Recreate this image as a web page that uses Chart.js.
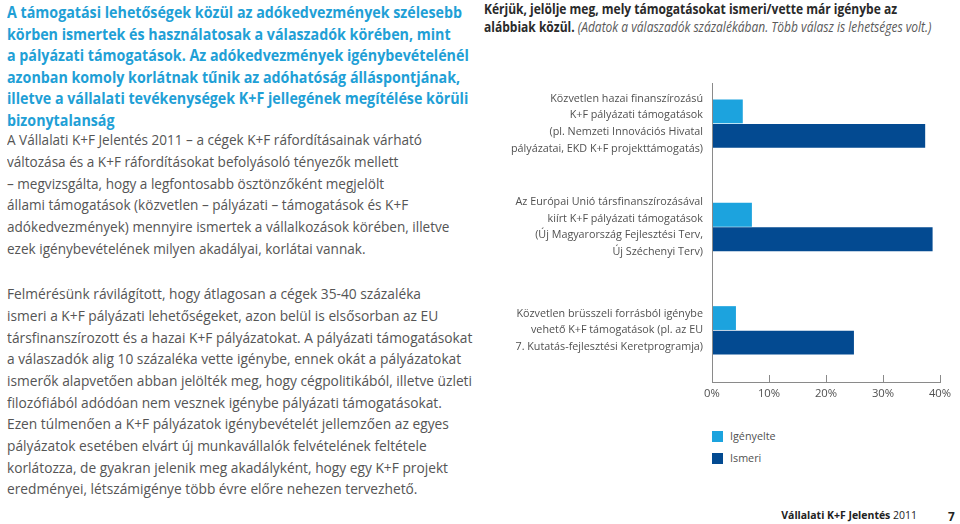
<!DOCTYPE html>
<html>
<head>
<meta charset="utf-8">
<script src="https://cdn.jsdelivr.net/npm/chart.js@4.4.0/dist/chart.umd.min.js"></script>
<style>
html, body { margin: 0; padding: 0; background: #fff; }
body { width: 960px; height: 524px; position: relative; overflow: hidden; font-family: "Open Sans", sans-serif; }
.blk { position: absolute; white-space: nowrap; transform-origin: left top; }
#chartBox { position: absolute; left: 480px; top: 60px; width: 480px; height: 350px; }
#legend { position: absolute; left: 712px; top: 430px; }
.lg { position: relative; height: 22px; }
.lg span.sw { position: absolute; left: 0; top: 1px; width: 11px; height: 11px; }
.lg span.tx { position: absolute; left: 18px; top: -2px; color: #505050; white-space: nowrap; }
#footer { position: absolute; right: 43px; top: 508px; color: #222; white-space: nowrap; }
#page { position: absolute; left: 948px; top: 508px; color: #222; font-weight: bold; }
</style>
</head>
<body>
<div id="heading" class="blk"></div>
<div id="body1" class="blk"></div>
<div id="body2" class="blk"></div>
<div id="title" class="blk"></div>
<div id="chartBox"><canvas id="wbChart"></canvas></div>
<div id="legend"></div>
<div id="footer"><b>Vállalati K+F Jelentés</b> 2011</div>
<div id="page">7</div>
<script>
// chart data
var categories = [
    ['Közvetlen hazai finanszírozású', 'K+F pályázati támogatások', '(pl. Nemzeti Innovációs Hivatal', 'pályázatai, EKD K+F projekttámogatás)'],
    ['Az Európai Unió társfinanszírozásával', 'kiírt K+F pályázati támogatások', '(Új Magyarország Fejlesztési Terv,', 'Új Széchenyi Terv)'],
    ['Közvetlen brüsszeli forrásból igénybe', 'vehető K+F támogatások (pl. az EU', '7. Kutatás-fejlesztési Keretprogramja)']
];
var seriesNames = ['Igényelte', 'Ismeri'];
var igenyelte = [5.4, 7.0, 4.2];
var ismeri = [37.4, 38.7, 24.9];
var tickValues = [0, 10, 20, 30, 40];
var tickLabels = ['0%', '10%', '20%', '30%', '40%'];

// page text
var headingLines = [
    'A támogatási lehetőségek közül az adókedvezmények szélesebb',
    'körben ismertek és használatosak a válaszadók körében, mint',
    'a pályázati támogatások. Az adókedvezmények igénybevételénél',
    'azonban komoly korlátnak tűnik az adóhatóság álláspontjának,',
    'illetve a vállalati tevékenységek K+F jellegének megítélése körüli',
    'bizonytalanság'
];
var body1Lines = [
    'A Vállalati K+F Jelentés 2011 – a cégek K+F ráfordításainak várható',
    'változása és a K+F ráfordításokat befolyásoló tényezők mellett',
    '– megvizsgálta, hogy a legfontosabb ösztönzőként megjelölt',
    'állami támogatások (közvetlen – pályázati – támogatások és K+F',
    'adókedvezmények) mennyire ismertek a vállalkozások körében, illetve',
    'ezek igénybevételének milyen akadályai, korlátai vannak.'
];
var body2Lines = [
    'Felmérésünk rávilágított, hogy átlagosan a cégek 35-40 százaléka',
    'ismeri a K+F pályázati lehetőségeket, azon belül is elsősorban az EU',
    'társfinanszírozott és a hazai K+F pályázatokat. A pályázati támogatásokat',
    'a válaszadók alig 10 százaléka vette igénybe, ennek okát a pályázatokat',
    'ismerők alapvetően abban jelölték meg, hogy cégpolitikából, illetve üzleti',
    'filozófiából adódóan nem vesznek igénybe pályázati támogatásokat.',
    'Ezen túlmenően a K+F pályázatok igénybevételét jellemzően az egyes',
    'pályázatok esetében elvárt új munkavállalók felvételének feltétele',
    'korlátozza, de gyakran jelenik meg akadályként, hogy egy K+F projekt',
    'eredményei, létszámigénye több évre előre nehezen tervezhető.'
];
var titleBold1 = 'Kérjük, jelölje meg, mely támogatásokat ismeri/vette már igénybe az';
var titleBold2 = 'alábbiak közül.';
var titleNote = ' (Adatok a válaszadók százalékában. Több válasz is lehetséges volt.)';

var FONT = '"Open Sans", sans-serif';
var lightBlue = '#1ca3de';
var darkBlue = '#034a91';
var axisColor = '#8a8a8a';
var textGrey = '#505050';

function textWidth(text, weight, size) {
    var c = document.createElement('canvas').getContext('2d');
    c.font = weight + ' ' + size + 'px ' + FONT;
    return c.measureText(text).width;
}

// lines of text at a given size, squeezed sideways so the first line hits the target width
function fillBlock(id, lines, left, firstCenter, lh, size, weight, color, target) {
    var el = document.getElementById(id);
    el.style.left = left + 'px';
    el.style.top = (firstCenter - lh / 2) + 'px';
    el.style.fontSize = size + 'px';
    el.style.fontWeight = weight;
    el.style.color = color;
    el.style.transform = 'scaleX(' + (target / textWidth(lines[0], weight, size)) + ')';
    lines.forEach(function (l) {
        var d = document.createElement('div');
        d.style.height = lh + 'px';
        d.style.lineHeight = lh + 'px';
        d.textContent = l;
        el.appendChild(d);
    });
}

fillBlock('heading', headingLines, 7, 12, 21.5, 16.5, 'bold', '#1fa0d6', 455);
fillBlock('body1', body1Lines, 7, 140, 21.8, 14.8, 'normal', '#555', 415);
fillBlock('body2', body2Lines, 7, 294, 21.7, 14.8, 'normal', '#555', 414);

var t = document.getElementById('title');
t.style.left = '484px';
t.style.top = '0px';
t.style.fontSize = '13.8px';
t.style.color = '#2a2a2a';
t.style.transform = 'scaleX(' + (413 / textWidth(titleBold1, 'bold', 13.8)) + ')';
t.innerHTML = '<div style="height:17.5px;line-height:17.5px;font-weight:bold"></div>' +
    '<div style="height:17.5px;line-height:17.5px"><b></b><i style="color:#5a5a5a"></i></div>';
t.children[0].textContent = titleBold1;
t.children[1].children[0].textContent = titleBold2;
t.children[1].children[1].textContent = titleNote;

var labelSize = 153 * 100 / textWidth(categories[0][0], 'normal', 100);
document.getElementById('footer').style.fontSize = (136 * 100 / textWidth('Vállalati K+F Jelentés 2011', 'bold', 100)) + 'px';
document.getElementById('page').style.fontSize = (labelSize + 1) + 'px';

var axisMarks = {
    id: 'axisMarks',
    afterDraw: function (chart) {
        var ctx = chart.ctx, area = chart.chartArea, xs = chart.scales.x;
        ctx.save();
        ctx.strokeStyle = axisColor;
        ctx.lineWidth = 1;
        ctx.beginPath();
        xs.ticks.forEach(function (tk) {
            var px = Math.round(xs.getPixelForValue(tk.value)) + 0.5;
            ctx.moveTo(px, area.bottom);
            ctx.lineTo(px, area.bottom - 7);
        });
        var lx = Math.round(area.left) + 0.5;
        ctx.moveTo(lx, area.top + 11);
        ctx.lineTo(lx, area.bottom);
        ctx.stroke();
        ctx.restore();
    }
};

var ctx = document.getElementById('wbChart').getContext('2d');
var chart = new Chart(ctx, {
    type: 'bar',
    data: {
        labels: categories,
        datasets: [{
            label: seriesNames[0],
            data: igenyelte,
            backgroundColor: lightBlue
        }, {
            label: seriesNames[1],
            data: ismeri,
            backgroundColor: darkBlue
        }]
    },
    options: {
        indexAxis: 'y',
        responsive: true,
        maintainAspectRatio: false,
        animation: false,
        devicePixelRatio: 1,
        categoryPercentage: 0.475,
        barPercentage: 0.97,
        layout: { padding: { top: 12, right: 20, left: 0, bottom: 0 } },
        plugins: {
            legend: { display: false },
            tooltip: { enabled: false }
        },
        scales: {
            x: {
                min: 0,
                max: 40,
                afterBuildTicks: function (scale) {
                    scale.ticks = tickValues.map(function (v) { return { value: v }; });
                },
                afterFit: function (scale) {
                    scale.height = 28;
                    scale.paddingLeft = 0;
                    scale.paddingRight = 0;
                },
                grid: { display: false, drawTicks: false },
                border: { display: true, color: axisColor, width: 1 },
                ticks: {
                    padding: 5,
                    color: textGrey,
                    font: { family: FONT, size: labelSize + 0.5 },
                    callback: function (v) { return tickLabels[tickValues.indexOf(v)]; }
                }
            },
            y: {
                afterFit: function (scale) {
                    scale.width = 232;
                    scale.paddingTop = 0;
                    scale.paddingBottom = 0;
                },
                grid: { display: false, drawTicks: false },
                border: { display: false },
                ticks: {
                    padding: 9,
                    color: textGrey,
                    font: { family: FONT, size: labelSize, lineHeight: 16.7 / labelSize }
                }
            }
        }
    },
    plugins: [axisMarks]
});

// legend from the chart's datasets
var lg = document.getElementById('legend');
chart.data.datasets.forEach(function (ds) {
    var row = document.createElement('div');
    row.className = 'lg';
    row.innerHTML = '<span class="sw"></span><span class="tx"></span>';
    row.children[0].style.background = ds.backgroundColor;
    row.children[1].textContent = ds.label;
    row.children[1].style.fontSize = labelSize + 'px';
    lg.appendChild(row);
});
</script>
</body>
</html>
